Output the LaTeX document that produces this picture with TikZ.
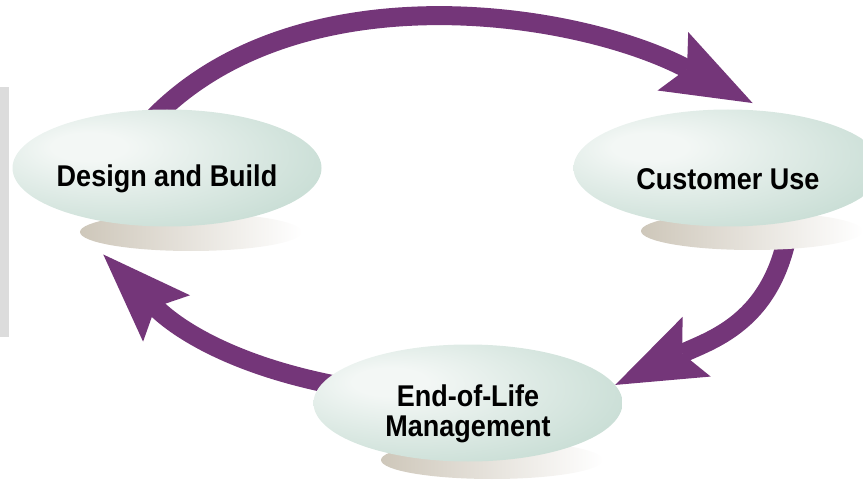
\documentclass[tikz,border=0pt]{standalone}
\usepackage{fontspec}
\usepackage{xcolor}
\usepackage{tikz}
\usetikzlibrary{arrows.meta}
\usetikzlibrary{shapes.geometric}
\usetikzlibrary{backgrounds}

\newfontfamily\stagefont[FakeStretch=0.9]{Liberation Sans}
\definecolor{cyclepurple}{RGB}{116,54,121}
\definecolor{stagelight}{RGB}{243,247,245}
\definecolor{stagemid}{RGB}{198,220,211}
\definecolor{stagedark}{RGB}{128,170,156}
\definecolor{shadowtan}{RGB}{206,199,186}
\definecolor{barfill}{RGB}{220,220,220}
\pgfdeclareradialshading{stageshade}{\pgfpoint{-14bp}{10bp}}{color(0bp)=(stagelight); color(6bp)=(stagelight); color(36bp)=(stagemid); color(64bp)=(stagedark)}

\begin{document}
\begin{tikzpicture}[x=1pt,y=-1pt]
	\useasboundingbox (0,0) rectangle (863,484);
	\fill[barfill] (0,87) rectangle (9,337);
	\tikzstyle{shadowband}=[shape=ellipse,minimum width=222pt,minimum height=38pt,inner sep=0pt,left color=shadowtan,right color=white];
	\tikzstyle{stage}=[shape=ellipse,shade,shading=stageshade,minimum width=309pt,minimum height=117pt,inner sep=0pt];
	\tikzstyle{stagelabel}=[font=\stagefont\bfseries\fontsize{30}{30}\selectfont,align=center,inner sep=0pt];
	\tikzstyle{cyclearrow}=[draw=cyclepurple,line width=19pt,shorten <=-10pt,-{Stealth[length=90pt,width=66pt,inset=16pt,line width=0pt]}];
	% shadows under the stages
	\node[shadowband] (dbshadow) at (191,232) {};
	\node[shadowband] (cushadow) at (752,231) {};
	\node[shadowband] (eolshadow) at (492,460) {};
	% stages
	\node[stage] (db) at (167,168) {};
	\node[stage] (cu) at (728,168) {};
	\node[stage] (eol) at (468,403) {};
	\node[stagelabel] (dblabel) at ([yshift=-11pt]db.center) {Design and Build};
	\node[stagelabel] (culabel) at ([yshift=-11pt]cu.center) {Customer Use};
	\node[stagelabel] (eollabel) at ([yshift=-11pt]eol.center) {End-of-Life\\Management};
	% the cycle
	\begin{pgfonlayer}{background}
		\draw[cyclearrow] (db.95) .. controls (300,-30) and (575,10) .. ([yshift=7pt]cu.67);
		\draw[cyclearrow] (cu.-41) .. controls (780,320) and (713,339) .. (eol.7);
		\draw[cyclearrow] (eol.172) .. controls (225,363) and (173,325) .. ([yshift=-33pt]db.220);
	\end{pgfonlayer}
\end{tikzpicture}
\end{document}
